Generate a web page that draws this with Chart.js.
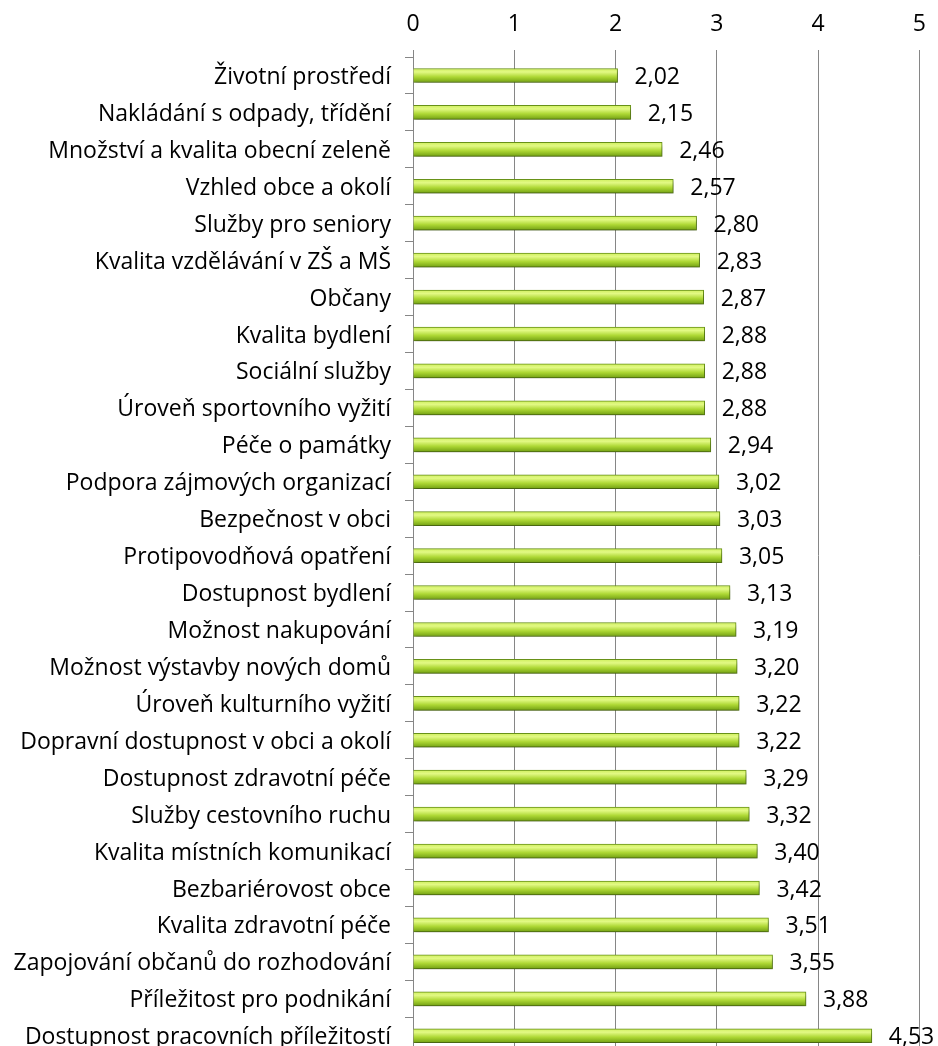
<!DOCTYPE html>
<html>
<head>
<meta charset="utf-8">
<script src="https://cdn.jsdelivr.net/npm/chart.js@4"></script>
<style>
  html, body { margin: 0; padding: 0; background: #fff; overflow: hidden; }
  #wrap { width: 938px; height: 1082px; }
</style>
</head>
<body>
<div id="wrap"><canvas id="graf"></canvas></div>
<script>
// Kategorie (shora dolů) a průměrné hodnocení
const kategorie = [
  'Životní prostředí',
  'Nakládání s odpady, třídění',
  'Množství a kvalita obecní zeleně',
  'Vzhled obce a okolí',
  'Služby pro seniory',
  'Kvalita vzdělávání v ZŠ a MŠ',
  'Občany',
  'Kvalita bydlení',
  'Sociální služby',
  'Úroveň sportovního vyžití',
  'Péče o památky',
  'Podpora zájmových organizací',
  'Bezpečnost v obci',
  'Protipovodňová opatření',
  'Dostupnost bydlení',
  'Možnost nakupování',
  'Možnost výstavby nových domů',
  'Úroveň kulturního vyžití',
  'Dopravní dostupnost v obci a okolí',
  'Dostupnost zdravotní péče',
  'Služby cestovního ruchu',
  'Kvalita místních komunikací',
  'Bezbariérovost obce',
  'Kvalita zdravotní péče',
  'Zapojování občanů do rozhodování',
  'Příležitost pro podnikání',
  'Dostupnost pracovních příležitostí'
];
const hodnoty = [2.02, 2.15, 2.46, 2.57, 2.80, 2.83, 2.87, 2.88, 2.88, 2.88, 2.94, 3.02, 3.03, 3.05,
  3.13, 3.19, 3.20, 3.22, 3.22, 3.29, 3.32, 3.40, 3.42, 3.51, 3.55, 3.88, 4.53];
const osaX = [0, 1, 2, 3, 4, 5];

const PISMO = '"Open Sans", sans-serif';
const VEL = 23;
const TLOUSTKA = 14;

// gradient přes výšku jednoho pruhu (podle pozice na ose y)
function zelenyGradient(c) {
  const chart = c.chart;
  const y = chart.scales.y;
  if (!y || !chart.chartArea) return '#9acd32';
  const stred = y.getPixelForValue(c.dataIndex);
  const g = chart.ctx.createLinearGradient(0, stred - TLOUSTKA / 2, 0, stred + TLOUSTKA / 2);
  g.addColorStop(0, '#cfef5e');
  g.addColorStop(0.25, '#e2f984');
  g.addColorStop(0.6, '#aed835');
  g.addColorStop(1, '#72a013');
  return g;
}

// stín pod pruhy
const stinPlugin = {
  id: 'stin',
  beforeDatasetsDraw(chart) {
    const ctx = chart.ctx;
    ctx.save();
    ctx.shadowColor = 'rgba(0,0,0,0.35)';
    ctx.shadowBlur = 4;
    ctx.shadowOffsetX = 1;
    ctx.shadowOffsetY = 3;
  },
  afterDatasetsDraw(chart) {
    chart.ctx.restore();
  }
};

// popisky hodnot vpravo od pruhů
const popiskyPlugin = {
  id: 'popisky',
  afterDatasetsDraw(chart) {
    const ctx = chart.ctx;
    const meta = chart.getDatasetMeta(0);
    ctx.save();
    ctx.font = VEL + 'px ' + PISMO;
    ctx.fillStyle = '#000';
    ctx.textAlign = 'left';
    ctx.textBaseline = 'middle';
    meta.data.forEach((bar, i) => {
      const txt = hodnoty[i].toFixed(2).replace('.', ',');
      ctx.fillText(txt, bar.x + 17, bar.y + 2);
    });
    ctx.restore();
  }
};

new Chart(document.getElementById('graf'), {
  type: 'bar',
  data: {
    labels: kategorie,
    datasets: [{
      data: hodnoty,
      backgroundColor: zelenyGradient,
      borderColor: '#6a9418',
      borderWidth: 1,
      barThickness: TLOUSTKA
    }]
  },
  options: {
    indexAxis: 'y',
    responsive: true,
    maintainAspectRatio: false,
    animation: false,
    layout: { padding: { top: 0, right: 9, left: 0, bottom: 0 } },
    plugins: {
      legend: { display: false },
      tooltip: { enabled: false }
    },
    scales: {
      x: {
        position: 'top',
        min: 0,
        max: 5,
        afterBuildTicks: s => { s.ticks = osaX.map(v => ({ value: v })); },
        afterFit: s => { s.height = 57; },
        grid: { color: '#868686', lineWidth: 1, tickLength: 7, drawTicks: true },
        border: { display: false },
        ticks: { color: '#000', font: { family: PISMO, size: VEL }, padding: 12 }
      },
      y: {
        grid: { offset: true, drawOnChartArea: false, color: '#868686', tickLength: 8 },
        border: { color: '#868686' },
        afterFit: s => { s.width = 413; },
        ticks: { color: '#000', font: { family: PISMO, size: VEL }, padding: 14, labelOffset: 2, autoSkip: false }
      }
    }
  },
  plugins: [stinPlugin, popiskyPlugin]
});
</script>
</body>
</html>
